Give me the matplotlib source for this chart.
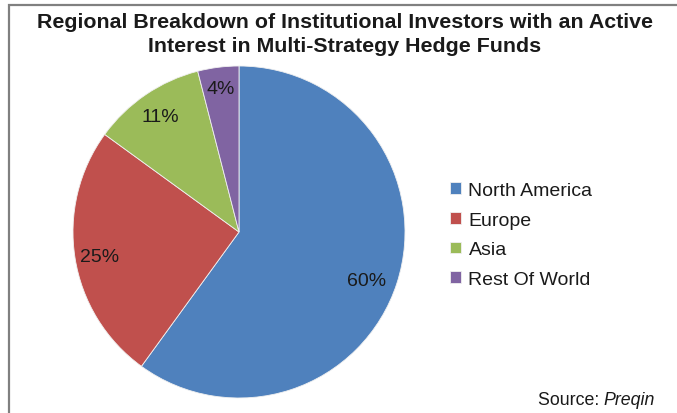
import matplotlib
matplotlib.use("Agg")
import matplotlib.pyplot as plt
import numpy as np
from matplotlib.patches import Rectangle

plt.rcParams['font.family'] = ['Liberation Sans', 'DejaVu Sans']

regions = ["North America", "Europe", "Asia", "Rest Of World"]
shares = [60, 25, 11, 4]
pct_labels = ["60%", "25%", "11%", "4%"]
colors = ["#4F81BD", "#C0504D", "#9BBB59", "#8064A2"]

W, H = 677, 414
fig = plt.figure(figsize=(W / 100, H / 100), dpi=100)
fig.patch.set_facecolor("white")

# border frame
fig.add_artist(Rectangle((8.5 / W, -0.05), 1.0, (H - 5.5) / H + 0.05,
                         transform=fig.transFigure, fill=False,
                         edgecolor="#808080", linewidth=1.6))

cx, cy, r = 239, 414 - 233, 166
ax = fig.add_axes([(cx - r) / W, (cy - r) / H, 2 * r / W, 2 * r / H])
wedges, texts = ax.pie(shares, colors=colors, startangle=90, counterclock=False,
                       labels=pct_labels, labeldistance=0.84,
                       wedgeprops=dict(edgecolor="#f0f0f0", linewidth=0.6),
                       textprops=dict(fontsize=14, color="#1a1a1a"))
# label placement tweaks (distance from centre, angle offset in degrees)
tweaks = [(0.82, -3), (0.85, 1), (0.84, 0), (0.87, 0)]
for w, t, (d, off) in zip(wedges, texts, tweaks):
    ang = np.deg2rad((w.theta1 + w.theta2) / 2 + off)
    t.set_position((d * np.cos(ang), d * np.sin(ang)))
    t.set_ha("center")
    t.set_va("center")
ax.set_xlim(-1, 1)
ax.set_ylim(-1, 1)
ax.set_aspect("equal")
ax.axis("off")

fig.text(345 / W, 1 - 22 / H,
         "Regional Breakdown of Institutional Investors with an Active",
         ha="center", va="center", fontsize=15.4, fontweight="bold",
         color="#1a1a1a")
fig.text(345 / W, 1 - 47 / H,
         "Interest in Multi-Strategy Hedge Funds",
         ha="center", va="center", fontsize=15.4, fontweight="bold",
         color="#1a1a1a")

leg = fig.legend(wedges, regions, loc="upper left",
                 bbox_to_anchor=(450 / W, 1 - 183 / H),
                 frameon=False, fontsize=14, handlelength=0.55,
                 handleheight=0.55, handletextpad=0.4, labelspacing=0.65,
                 borderpad=0, borderaxespad=0)
for t in leg.get_texts():
    t.set_color("#1a1a1a")

fig.text(538 / W, 1 - 401 / H, "Source: ", ha="left", va="center",
         fontsize=12.8, color="#1a1a1a")
fig.text(603 / W, 1 - 401 / H, "Preqin", ha="left", va="center",
         fontsize=12.8, style="italic", color="#1a1a1a")

fig.savefig("out.png", dpi=100, facecolor="white")
